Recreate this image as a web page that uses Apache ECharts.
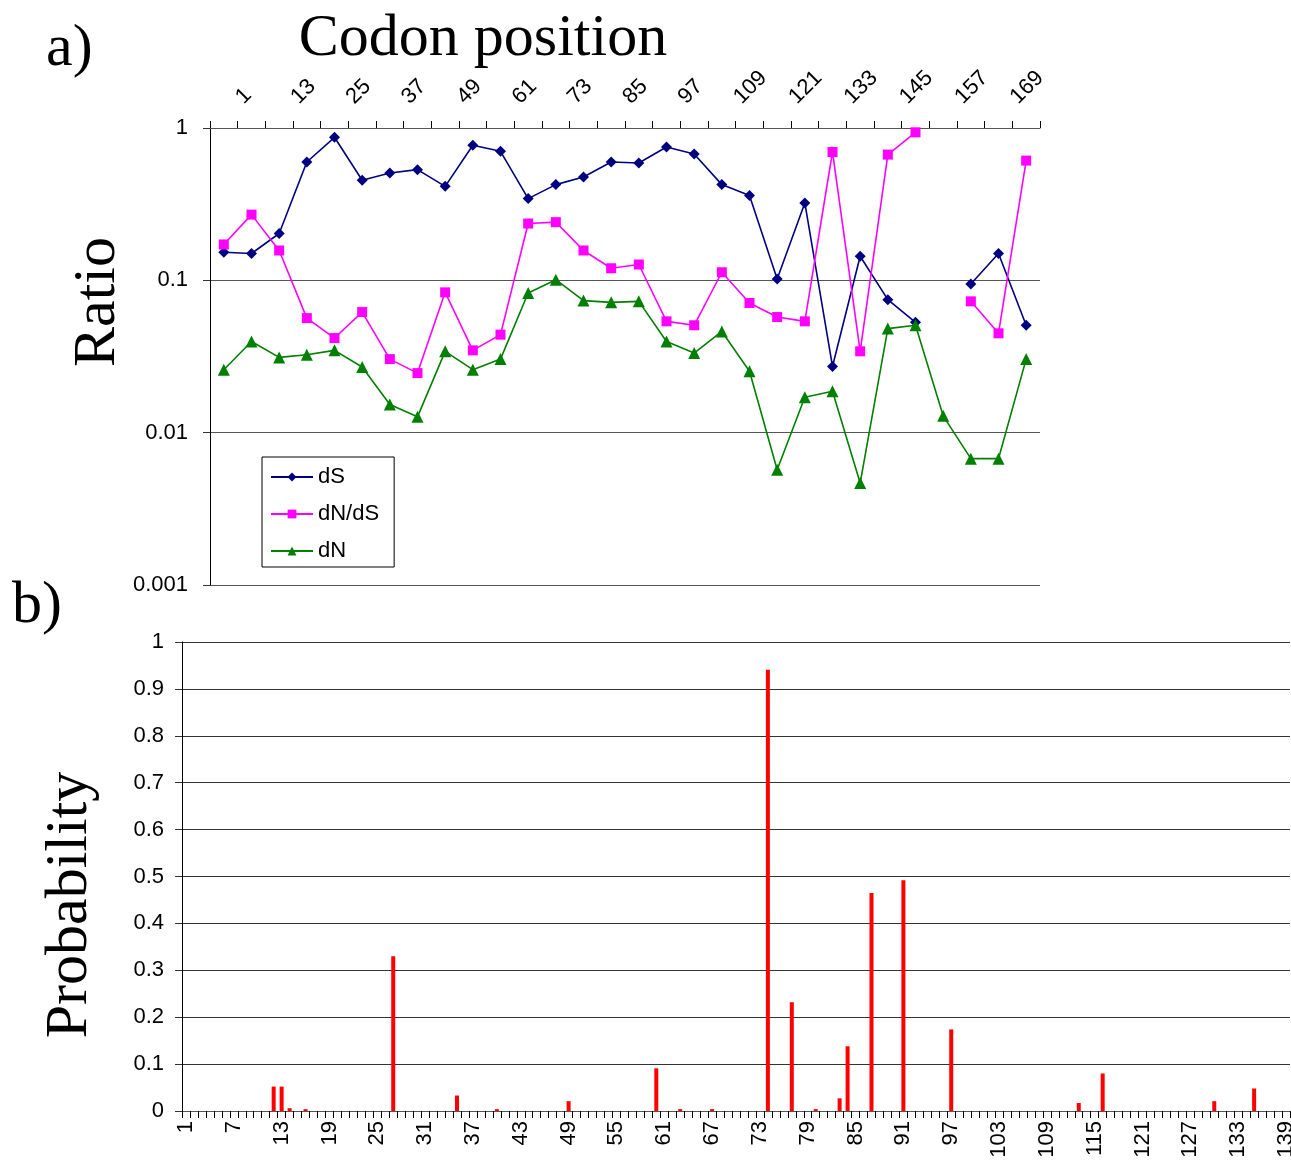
<!DOCTYPE html>
<html>
<head>
<meta charset="utf-8">
<script src="https://cdn.jsdelivr.net/npm/echarts@6/dist/echarts.min.js"></script>
<style>
  html, body { margin: 0; padding: 0; background: #fff; }
  #main { width: 1291px; height: 1165px; }
</style>
</head>
<body>
<div id="main"></div>
<script>
// a) sliding windows, start codon of each window
const windowStart = [1, 7, 13, 19, 25, 31, 37, 43, 49, 55, 61, 67, 73, 79, 85,
  91, 97, 103, 109, 115, 121, 127, 133, 139, 145, 151, 157, 163, 169, 175]

const dS = [0.153, 0.150, 0.203, 0.598, 0.869, 0.454, 0.507, 0.533, 0.414, 0.770,
  0.703, 0.344, 0.425, 0.477, 0.598, 0.589, 0.750, 0.675, 0.425, 0.361,
  0.102, 0.322, 0.0272, 0.144, 0.0747, 0.0530, null, 0.0946, 0.150, 0.0507]

const dNdS = [0.172, 0.270, 0.157, 0.0565, 0.0418, 0.0619, 0.0304, 0.0246, 0.0834, 0.0347,
  0.0440, 0.236, 0.241, 0.157, 0.120, 0.127, 0.0538, 0.0507, 0.113, 0.0710,
  0.0574, 0.0538, 0.696, 0.0342, 0.669, 0.937, null, 0.0728, 0.0449, 0.611]

const dN = [0.0259, 0.0397, 0.0312, 0.0325, 0.0347, 0.0270, 0.0153, 0.0127, 0.0342, 0.0259,
  0.0304, 0.0826, 0.101, 0.0736, 0.0717, 0.0728, 0.0397, 0.0333, 0.0462, 0.0253,
  0.00571, 0.0171, 0.0187, 0.00467, 0.0482, 0.0507, 0.0129, 0.00675, 0.00675, 0.0304]

// b) posterior probability per codon
const codons = [
  1, 2, 3, 4, 5, 6, 7, 8, 9, 10, 11, 12, 13, 14, 15, 16, 17, 18, 19, 20,
  21, 22, 23, 24, 25, 26, 27, 28, 29, 30, 31, 32, 33, 34, 35, 36, 37, 38, 39, 40,
  41, 42, 43, 44, 45, 46, 47, 48, 49, 50, 51, 52, 53, 54, 55, 56, 57, 58, 59, 60,
  61, 62, 63, 64, 65, 66, 67, 68, 69, 70, 71, 72, 73, 74, 75, 76, 77, 78, 79, 80,
  81, 82, 83, 84, 85, 86, 87, 88, 89, 90, 91, 92, 93, 94, 95, 96, 97, 98, 99, 100,
  101, 102, 103, 104, 105, 106, 107, 108, 109, 110, 111, 112, 113, 114, 115, 116, 117, 118, 119, 120,
  121, 122, 123, 124, 125, 126, 127, 128, 129, 130, 131, 132, 133, 134, 135, 136, 137, 138, 139]

const probability = [
  0, 0, 0, 0, 0, 0, 0, 0, 0, 0,
  0, 0.052, 0.052, 0.006, 0, 0.004, 0, 0, 0, 0,
  0, 0, 0, 0, 0, 0, 0.33, 0, 0, 0,
  0, 0, 0, 0, 0.033, 0, 0, 0, 0, 0.004,
  0, 0, 0, 0, 0, 0, 0, 0, 0.021, 0,
  0, 0, 0, 0, 0, 0, 0, 0, 0, 0.091,
  0, 0, 0.004, 0, 0, 0, 0.004, 0, 0, 0,
  0, 0, 0, 0.941, 0, 0, 0.232, 0, 0, 0.004,
  0, 0, 0.027, 0.138, 0, 0, 0.465, 0, 0, 0,
  0.492, 0, 0, 0, 0, 0, 0.174, 0, 0, 0,
  0, 0, 0, 0, 0, 0, 0, 0, 0, 0,
  0, 0, 0.017, 0, 0, 0.08, 0, 0, 0, 0,
  0, 0, 0, 0, 0, 0, 0, 0, 0, 0.021,
  0, 0, 0, 0, 0.048, 0, 0, 0, 0]

const sans = 'Liberation Sans'
const serif = '60px "Liberation Serif"'

const myChart = echarts.init(document.getElementById('main'), null, { renderer: 'canvas' })

let option = {
  animation: false,
  backgroundColor: '#fff',
  textStyle: { fontFamily: sans, color: '#000' },
  legend: {
    data: ['dS', 'dN/dS', 'dN'],
    orient: 'vertical',
    left: 262,
    top: 457,
    itemWidth: 42,
    itemHeight: 11,
    itemGap: 15,
    padding: [9, 15, 5, 8],
    borderColor: '#000',
    borderWidth: 1,
    backgroundColor: '#fff',
    textStyle: { fontSize: 22, color: '#000', fontFamily: sans },
  },
  grid: [
    { left: 210, top: 128, width: 830, height: 457, outerBoundsMode: 'none' },
    { left: 182, top: 642, width: 1108, height: 469, outerBoundsMode: 'none' },
  ],
  xAxis: [
    {
      gridIndex: 0,
      type: 'category',
      position: 'top',
      data: windowStart,
      boundaryGap: true,
      axisLine: { lineStyle: { color: '#555', width: 1 } },
      axisTick: { show: true, interval: 0, length: 7, lineStyle: { color: '#000', width: 1 } },
      axisLabel: { interval: 1, rotate: -45, fontSize: 22, color: '#000', margin: 12, padding: [0, 0, 0, 22] },
      splitLine: { show: false },
    },
    {
      gridIndex: 1,
      type: 'category',
      data: codons,
      axisLine: { lineStyle: { color: '#555', width: 1 } },
      axisTick: { show: true, interval: 0, length: 7, lineStyle: { color: '#000', width: 1 } },
      axisLabel: { interval: 5, rotate: 90, fontSize: 22, color: '#000', margin: 10 },
      splitLine: { show: false },
    },
  ],
  yAxis: [
    {
      gridIndex: 0,
      type: 'log',
      logBase: 10,
      min: 0.001,
      max: 1,
      axisLine: { show: true, lineStyle: { color: '#000' } },
      axisTick: { show: true, length: 7, lineStyle: { color: '#333' } },
      axisLabel: { fontSize: 22, color: '#000', margin: 22 },
      splitLine: { show: true, lineStyle: { color: '#555', width: 1 } },
    },
    {
      gridIndex: 1,
      type: 'value',
      min: 0,
      max: 1,
      interval: 0.1,
      axisLine: { show: true, lineStyle: { color: '#000' } },
      axisTick: { show: true, length: 7, lineStyle: { color: '#333' } },
      axisLabel: { fontSize: 22, color: '#000', margin: 18 },
      splitLine: { show: true, lineStyle: { color: '#333', width: 1 } },
    },
  ],
  series: [
    {
      name: 'dS',
      type: 'line',
      xAxisIndex: 0,
      yAxisIndex: 0,
      data: dS,
      symbol: 'diamond',
      symbolSize: 11,
      color: '#000080',
      lineStyle: { width: 1.6 },
    },
    {
      name: 'dN/dS',
      type: 'line',
      xAxisIndex: 0,
      yAxisIndex: 0,
      data: dNdS,
      symbol: 'rect',
      symbolSize: 10,
      color: '#ff00ff',
      lineStyle: { width: 1.6 },
    },
    {
      name: 'dN',
      type: 'line',
      xAxisIndex: 0,
      yAxisIndex: 0,
      data: dN,
      symbol: 'triangle',
      symbolSize: 12,
      color: '#008000',
      lineStyle: { width: 1.6 },
    },
    {
      name: 'Probability',
      type: 'bar',
      xAxisIndex: 1,
      yAxisIndex: 1,
      data: probability,
      barWidth: 4,
      color: '#ff0000',
    },
  ],
  graphic: [
    { type: 'text', x: 46, y: 49, style: { text: 'a)', font: serif, fill: '#000', align: 'left', verticalAlign: 'middle' } },
    { type: 'text', x: 483, y: 39, style: { text: 'Codon position', font: serif, fill: '#000', align: 'center', verticalAlign: 'middle' } },
    { type: 'text', x: 98, y: 302, rotation: Math.PI / 2, style: { text: 'Ratio', font: serif, fill: '#000', align: 'center', verticalAlign: 'middle' } },
    { type: 'text', x: 12, y: 606, style: { text: 'b)', font: serif, fill: '#000', align: 'left', verticalAlign: 'middle' } },
    { type: 'text', x: 70, y: 905, rotation: Math.PI / 2, style: { text: 'Probability', font: serif, fill: '#000', align: 'center', verticalAlign: 'middle' } },
  ],
}

option && myChart.setOption(option)
</script>
</body>
</html>
